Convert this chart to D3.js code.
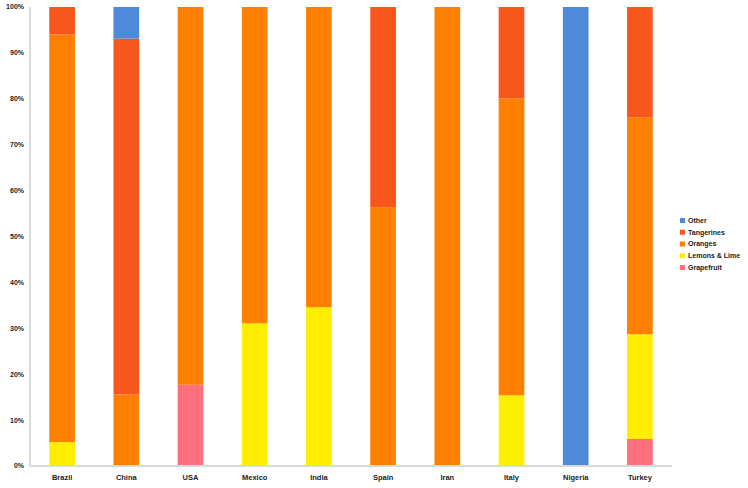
<!DOCTYPE html>
<html lang="en">
<head>
  <meta charset="UTF-8">
  <title>Citrus production share by country</title>
  <script src="https://d3js.org/d3.v7.min.js"></script>
  <style>
    body { margin: 0; background: #fff; font-family: "Liberation Sans", Arial, sans-serif; }
    svg text { font-weight: bold; fill: #222; }
  </style>
</head>
<body>
<div id="chart"></div>
<script>
// data (percent shares)
const countries = ["Brazil", "China", "USA", "Mexico", "India", "Spain", "Iran", "Italy", "Nigeria", "Turkey"];
const grapefruit = [0, 0, 17.7, 0, 0, 0, 0, 0, 0, 5.9];
const lemons = [5.2, 0, 0, 31.1, 34.6, 0, 0, 15.4, 0, 22.8];
const oranges = [88.8, 15.6, 82.3, 68.9, 65.4, 56.4, 100, 64.7, 0, 47.3];
const tangerines = [6.0, 77.5, 0, 0, 0, 43.6, 0, 19.9, 0, 24.0];
const other = [0, 6.9, 0, 0, 0, 0, 0, 0, 100, 0];

const seriesNames = ["Grapefruit", "Lemons & Lime", "Oranges", "Tangerines", "Other"];
const seriesValues = [grapefruit, lemons, oranges, tangerines, other];
const colors = ["#ff6f7d", "#ffee00", "#ff8000", "#f8561c", "#4d8ad9"];
const yTicks = [0, 10, 20, 30, 40, 50, 60, 70, 80, 90, 100];

const width = 748;
const height = 488;
const margin = { top: 7, left: 30, right: 76, bottom: 22 };

const svg = d3.select("#chart")
  .append("svg")
  .attr("width", width)
  .attr("height", height);

const rows = countries.map((c, i) => {
  const r = { country: c };
  seriesNames.forEach((s, j) => { r[s] = seriesValues[j][i]; });
  return r;
});

const stack = d3.stack().keys(seriesNames);
const layers = stack(rows);

const x = d3.scaleBand()
  .domain(countries)
  .range([margin.left, width - margin.right])
  .paddingInner(0.6)
  .paddingOuter(0.3);

const y = d3.scaleLinear()
  .domain([0, 100])
  .range([height - margin.bottom, margin.top]);

const color = d3.scaleOrdinal().domain(seriesNames).range(colors);

// bars
svg.append("g")
  .selectAll("g")
  .data(layers)
  .join("g")
  .attr("fill", d => color(d.key))
  .selectAll("rect")
  .data(d => d)
  .join("rect")
  .attr("x", d => x(d.data.country))
  .attr("y", d => y(d[1]))
  .attr("width", x.bandwidth())
  .attr("height", d => y(d[0]) - y(d[1]));

// axes lines
svg.append("line")
  .attr("x1", margin.left).attr("x2", margin.left)
  .attr("y1", y(100)).attr("y2", y(0))
  .attr("stroke", "#d9d9d9").attr("stroke-width", 2);

svg.append("line")
  .attr("x1", margin.left).attr("x2", width - margin.right)
  .attr("y1", y(0)).attr("y2", y(0))
  .attr("stroke", "#d9d9d9").attr("stroke-width", 2);

// y tick labels
svg.append("g")
  .selectAll("text")
  .data(yTicks)
  .join("text")
  .attr("x", margin.left - 6)
  .attr("y", d => y(d))
  .attr("dy", "0.35em")
  .attr("text-anchor", "end")
  .style("font-size", "7px")
  .text(d => d + "%");

// x labels
svg.append("g")
  .selectAll("text")
  .data(countries)
  .join("text")
  .attr("x", d => x(d) + x.bandwidth() / 2)
  .attr("y", height - 8)
  .attr("text-anchor", "middle")
  .style("font-size", "7.5px")
  .text(d => d);

// legend (top entry is the top of the stack)
const legendOrder = seriesNames.slice().reverse();
const legend = svg.append("g")
  .selectAll("g")
  .data(legendOrder)
  .join("g")
  .attr("transform", (d, i) => `translate(680, ${218 + i * 11.75})`);

legend.append("rect")
  .attr("width", 5)
  .attr("height", 5)
  .attr("fill", d => color(d));

legend.append("text")
  .attr("x", 8)
  .attr("y", 2.5)
  .attr("dy", "0.35em")
  .style("font-size", "7px")
  .text(d => d);
</script>
</body>
</html>
